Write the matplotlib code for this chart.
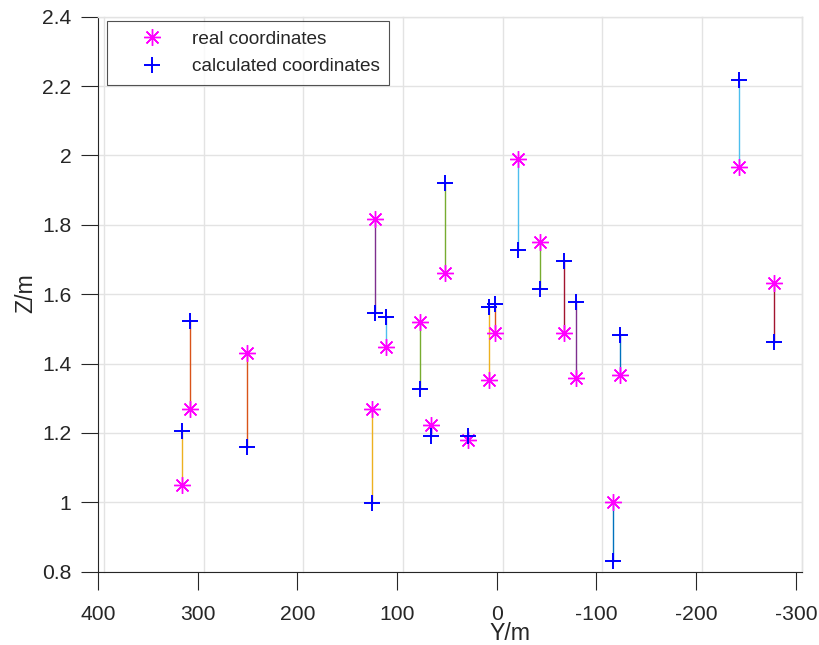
import matplotlib
matplotlib.use('Agg')
import matplotlib.pyplot as plt
from matplotlib.transforms import ScaledTranslation
from cycler import cycler

# ---- data ----
Y_pos  = [-116.1, 307.3, 315.3, 122.4, 77.2, 110.6, -67.5,
          -123.4, 250.1, 125.1, -79.0, 52.2, -21.8, -278.0,
          65.5, 1.3, 8.0, 28.8, -43.2, -242.8]
Z_real = [1.002, 1.268, 1.049, 1.817, 1.521, 1.447, 1.489,
          1.367, 1.431, 1.269, 1.358, 1.660, 1.989, 1.631,
          1.223, 1.489, 1.353, 1.180, 1.751, 1.967]
Z_calc = [0.832, 1.524, 1.207, 1.545, 1.328, 1.535, 1.696,
          1.482, 1.160, 0.997, 1.577, 1.922, 1.727, 1.461,
          1.192, 1.571, 1.564, 1.192, 1.616, 2.217]

x_ticks = [400, 300, 200, 100, 0, -100, -200, -300]
x_ticklabels = ['400', '300', '200', '100', '0', '-100', '-200', '-300']
y_ticks = [0.8, 1.0, 1.2, 1.4, 1.6, 1.8, 2.0, 2.2, 2.4]
y_ticklabels = ['0.8', '1', '1.2', '1.4', '1.6', '1.8', '2', '2.2', '2.4']

series_labels = ['real coordinates', 'calculated coordinates']
matlab_colors = ['#0072BD', '#D95319', '#EDB120', '#7E2F8E',
                 '#77AC30', '#4DBEEE', '#A2142F']

plt.rcParams['font.family'] = ['Liberation Sans', 'DejaVu Sans']
TXT = '#262626'
GRID = '#E3E3E3'

W, H = 819, 645
fig = plt.figure(figsize=(W / 100, H / 100), dpi=100)
ax = fig.add_axes([97.8 / W, (H - 571.7) / H, 703.9 / W, 555 / H])
ax.set_prop_cycle(cycler(color=matlab_colors))

# connecting lines
for yv, zr, zc in zip(Y_pos, Z_real, Z_calc):
    ax.plot([yv, yv], [zr, zc], lw=1.0, zorder=2)

ax.plot(Y_pos, Z_real, ls='none', marker=(8, 2, 0), ms=12, mew=1.0,
        color='#FF00FF', label=series_labels[0], zorder=3)
ax.plot(Y_pos, Z_calc, ls='none', marker='+', ms=12, mew=1.4,
        color='#0000FF', label=series_labels[1], zorder=4)

ax.set_xlim(400, -305.8)
ax.set_ylim(0.8, 2.4)
ax.set_xticks(x_ticks)
ax.set_xticklabels(x_ticklabels)
ax.set_yticks(y_ticks)
ax.set_yticklabels(y_ticklabels)

# grid: horizontal at ticks, vertical on the back plane (slightly shifted)
ax.grid(axis='y', color=GRID, lw=1.0, zorder=0)
ax.set_axisbelow(True)
shift = ScaledTranslation(6 / 100, 0, fig.dpi_scale_trans)
vtrans = ax.get_xaxis_transform() + shift
for xt in x_ticks:
    ax.plot([xt, xt], [0, 1], color=GRID, lw=1.0, zorder=0.5,
            transform=vtrans, clip_on=False)

for s in ['top', 'right']:
    ax.spines[s].set_color(GRID)
    ax.spines[s].set_linewidth(1.0)
for s in ['left', 'bottom']:
    ax.spines[s].set_color(TXT)
    ax.spines[s].set_linewidth(0.8)

ax.tick_params(axis='x', direction='out', length=12.7, width=0.8,
               color=TXT, labelcolor=TXT, labelsize=15.2, pad=11)
ax.tick_params(axis='y', direction='out', length=12.5, width=0.8,
               color=TXT, labelcolor=TXT, labelsize=15.2, pad=6.5)

ax.set_xlabel('Y/m', fontsize=16.7, color=TXT, va='top')
ax.xaxis.set_label_coords((509.5 - 97.8) / 703.9, (571.7 - 622) / 555)
ax.set_ylabel('Z/m', fontsize=16.7, color=TXT)
ax.yaxis.set_label_coords((37.5 - 97.8) / 703.9, (571.7 - 293) / 555)

leg = ax.legend(loc='upper left',
                bbox_to_anchor=((107.3 - 97.8) / 703.9, (571.7 - 20.7) / 555),
                borderaxespad=0, fontsize=13.7, frameon=True, fancybox=False,
                edgecolor=TXT, borderpad=0.5, handlelength=3.7,
                handletextpad=0.25, labelspacing=0.55)
leg.get_frame().set_linewidth(0.8)
for t in leg.get_texts():
    t.set_color(TXT)

fig.savefig('out.png', dpi=100)
